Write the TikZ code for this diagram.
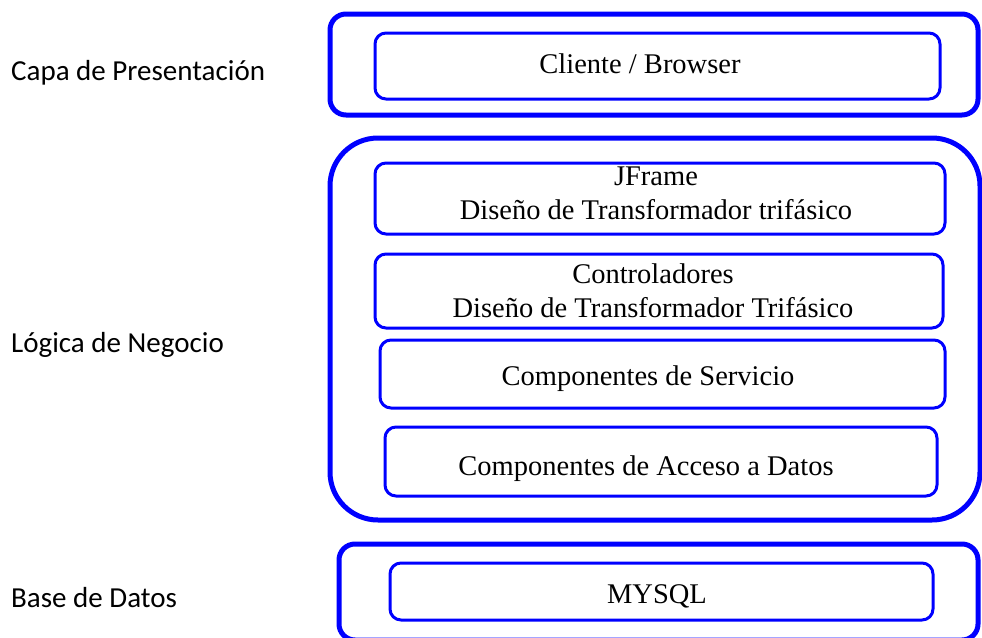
\documentclass[tikz,border=0pt]{standalone}
\usepackage{fontspec}
\setmainfont{Liberation Serif}
\newfontfamily\lblfont{Carlito}
\definecolor{boxblue}{RGB}{0,0,255}
\tikzset{
  outerbox/.style={draw=boxblue, line width=5pt, inner sep=0pt, rounded corners=#1},
  innerbox/.style={draw=boxblue, line width=3pt, inner sep=0pt, rounded corners=11pt},
  boxtext/.style={font=\fontsize{28.5}{34}\selectfont, inner sep=0pt, anchor=base, align=center},
  layertext/.style={font=\lblfont\fontsize{29}{34}\selectfont, inner sep=0pt, anchor=base west}
}
\begin{document}
\begin{tikzpicture}[x=1pt,y=-1pt]
\useasboundingbox (0,0) rectangle (982,637);
\clip (0,0) rectangle (982,637);
% outer layer frames
\node[outerbox=16pt, minimum width=648pt, minimum height=101pt] (pres) at (654,64.5) {};
\node[outerbox=48pt, minimum width=650pt, minimum height=382pt] (neg) at (655,329) {};
\node[outerbox=16pt, minimum width=639pt, minimum height=96pt] (bd) at (658.5,592) {};
% inner boxes
\node[innerbox, minimum width=565pt, minimum height=66pt] (cli) at (657.5,66) {};
\node[innerbox, minimum width=570pt, minimum height=71pt] (jf) at (660,198.5) {};
\node[innerbox, minimum width=568pt, minimum height=74pt] (ctl) at (659,291) {};
\node[innerbox, minimum width=565pt, minimum height=68pt] (srv) at (662.5,374) {};
\node[innerbox, minimum width=552pt, minimum height=69pt] (acc) at (661,461.5) {};
\node[innerbox, minimum width=543pt, minimum height=57pt] (sql) at (661.5,591.5) {};
% texts in boxes
\node[boxtext] (tcli) at (640,73) {Cliente / Browser};
\node[boxtext] (tjf) at (656,219) {JFrame\\Diseño de Transformador trifásico};
\node[boxtext] (tctl) at (653,317) {Controladores\\Diseño de Transformador Trifásico};
\node[boxtext] (tsrv) at (648,385) {Componentes de Servicio};
\node[boxtext] (tacc) at (646,475) {Componentes de Acceso a Datos};
\node[boxtext] (tsql) at (657,603) {MYSQL};
% layer labels
\node[layertext] (lpres) at (11,80) {Capa de Presentación};
\node[layertext] (lneg) at (11,352) {Lógica de Negocio};
\node[layertext] (lbd) at (11,607) {Base de Datos};
\end{tikzpicture}
\end{document}
